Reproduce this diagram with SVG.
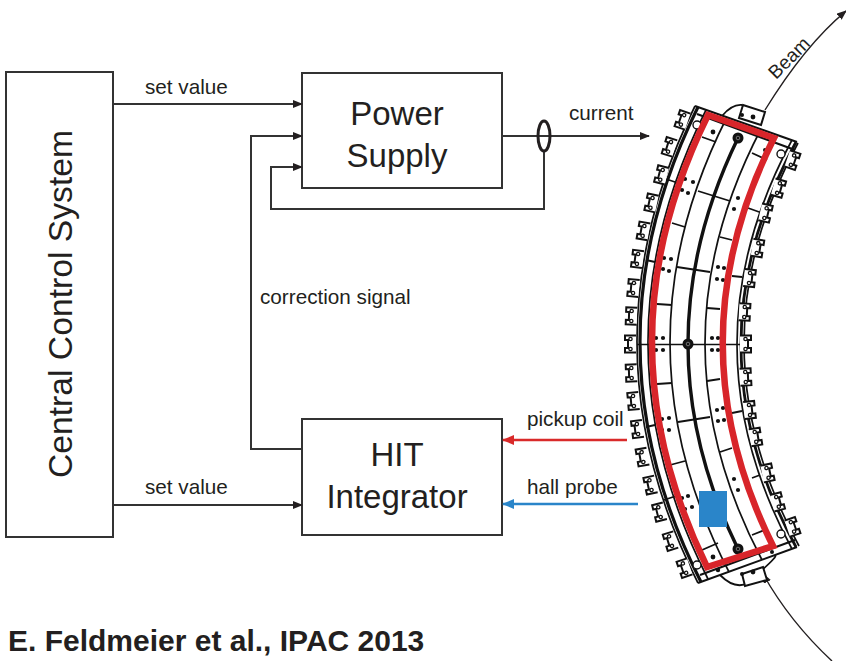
<svg xmlns="http://www.w3.org/2000/svg" width="846" height="661" viewBox="0 0 846 661">
<style>
text{font-family:"Liberation Sans",Arial,sans-serif;fill:#231f20}
.l{font-size:20.7px}
.b{font-size:33px;text-anchor:middle}
.box{fill:#fff;stroke:#333;stroke-width:2}
.w{fill:none;stroke:#333;stroke-width:2}
.r{fill:none;stroke:#111;stroke-width:1.7}
.t{fill:none;stroke:#111;stroke-width:1.8}
.clip{fill:#fff;stroke:#111;stroke-width:2}
.d{fill:#111}
</style>
<defs>
<marker id="a" markerWidth="10" markerHeight="8" refX="9" refY="4" orient="auto" markerUnits="userSpaceOnUse"><path d="M0,0L10,4L0,8Z" fill="#231f20"/></marker>
<marker id="ar" markerWidth="12" markerHeight="10" refX="11" refY="5" orient="auto" markerUnits="userSpaceOnUse"><path d="M0,0L12,5L0,10Z" fill="#d92a2a"/></marker>
<marker id="ab" markerWidth="12" markerHeight="10" refX="11" refY="5" orient="auto" markerUnits="userSpaceOnUse"><path d="M0,0L12,5L0,10Z" fill="#2a85c9"/></marker>
<g id="c"><path class="clip" d="M5,-8.5H-6V-4H-3V4H-6V8.5H5"/><circle cx="-0.5" cy="-5" r="2.3" fill="#111"/><circle cx="-0.5" cy="5" r="2.3" fill="#111"/><circle cx="-0.5" cy="-5" r="1" fill="#fff"/><circle cx="-0.5" cy="5" r="1" fill="#fff"/></g>
<g id="p"><circle r="5.5" fill="#111"/><circle r="1.8" fill="none" stroke="#888" stroke-width="0.8"/></g>
</defs>

<g id="central-control-system"><rect class="box" x="6" y="72" width="107" height="465"/><text transform="translate(72,304) rotate(-90)" font-size="33.7" text-anchor="middle">Central Control System</text></g>
<g id="power-supply"><rect class="box" x="302" y="73" width="200" height="115"/><text class="b" x="397" y="125">Power</text><text class="b" x="397" y="167">Supply</text></g>
<g id="hit-integrator"><rect class="box" x="302" y="419" width="200" height="116"/><text class="b" x="397" y="466">HIT</text><text class="b" x="397" y="508">Integrator</text></g>

<g id="connectors">
<path class="w" marker-end="url(#a)" d="M113,104H302"/>
<path class="w" marker-end="url(#a)" d="M113,505H302"/>
<path class="w" marker-end="url(#a)" d="M302,449H251V136H302"/>
<path class="w" marker-end="url(#a)" d="M544,151V209H271V167H302"/>
<path class="w" marker-end="url(#a)" d="M502,136H649"/>
<ellipse cx="544" cy="136" rx="6" ry="15" fill="none" stroke="#231f20" stroke-width="3"/>
<path fill="none" stroke="#d92a2a" stroke-width="2.5" marker-end="url(#ar)" d="M627,440H503"/>
<path fill="none" stroke="#2a85c9" stroke-width="2.5" marker-end="url(#ab)" d="M638,504H503"/>
<path fill="none" stroke="#231f20" stroke-width="1.4" marker-end="url(#a)" d="M765,110Q805,45 846,11"/>
<path fill="none" stroke="#231f20" stroke-width="1.4" marker-end="url(#a)" d="M832,661Q790,622 763,574"/>
</g>
<g id="labels">
<text class="l" x="145" y="94">set value</text>
<text class="l" x="145" y="494">set value</text>
<text class="l" x="569" y="120">current</text>
<text class="l" x="260" y="304">correction signal</text>
<text class="l" x="527" y="426">pickup coil</text>
<text class="l" x="527" y="494">hall probe</text>
<text transform="translate(776,80) rotate(-45)" font-size="19">Beam</text>
<text x="8" y="651" font-size="30" font-weight="bold" fill="#111">E. Feldmeier et al., IPAC 2013</text>
</g>

<g id="magnet">
<path class="t" d="M722,116Q732,104 742,105M720,575Q735,590 748,583M762,570Q778,556 775,555"/>
<path class="clip" d="M743,105L765,112L761,125L739,118Z"/>
<path class="clip" d="M742,574L763,567L767,580L745,586Z"/>
<circle class="d" cx="742" cy="115" r="2"/><circle class="d" cx="753" cy="117" r="2.4"/>
<circle class="d" cx="742" cy="574" r="2"/><circle class="d" cx="753" cy="572" r="2.4"/>
<path class="r" style="stroke-width:2" d="M695,106L797,142M698,583L797,547M697,114L795,150M700,575L795,540"/>
<path class="r" d="M637,344.5H741"/>
<path class="r" d="M695,106Q577.5,344.5 698,583"/>
<path class="t" style="stroke-width:3.2" d="M698,107Q580.5,344.5 701,582"/>
<path class="r" d="M706,110Q589,344.5 708,579"/>
<path class="r" d="M727,117Q612,344.5 729,572"/>
<path class="r" style="stroke-width:3.4" d="M738,138Q638,344.5 738,549"/>
<path class="r" d="M761,129Q648.5,344.5 762,560"/>
<path class="r" d="M792,140Q682,344.5 792,549"/>
<path class="t" style="stroke-width:2.8" d="M796,142Q686,344.5 796,547"/>
<path class="r" d="M798,143Q689.5,344.5 799,546"/>
<path class="t" d="M646,260L655,262M677,267L710,272M732,276L742,277M646,427L655,425M678,422L710,417M732,413L742,411M657,304L672,305M707,308L720,309M657,384L672,383M707,381L720,379M672,223L685,227M720,237L732,240M663,178L678,183M698,191L730,201M748,208L762,213M752,153L767,160M670,465L685,461M720,452L732,448M752,478L760,475M702,550L718,543M752,535L767,529M664,500L676,496M702,137L716,142"/>
<g class="d">
<circle cx="664" cy="258" r="2.1"/><circle cx="671" cy="259" r="2.1"/><circle cx="663" cy="269" r="2.1"/><circle cx="669" cy="271" r="2.1"/>
<circle cx="718" cy="267" r="2.1"/><circle cx="724" cy="268" r="2.1"/><circle cx="717" cy="279" r="2.1"/><circle cx="723" cy="280" r="2.1"/>
<circle cx="656" cy="338" r="2.1"/><circle cx="663" cy="338" r="2.1"/><circle cx="656" cy="350" r="2.1"/><circle cx="663" cy="350" r="2.1"/>
<circle cx="712" cy="338" r="2.1"/><circle cx="718" cy="338" r="2.1"/><circle cx="712" cy="350" r="2.1"/><circle cx="718" cy="350" r="2.1"/>
<circle cx="662" cy="419" r="2.1"/><circle cx="669" cy="418" r="2.1"/><circle cx="662" cy="430" r="2.1"/><circle cx="669" cy="430" r="2.1"/>
<circle cx="717" cy="410" r="2.1"/><circle cx="723" cy="408" r="2.1"/><circle cx="718" cy="421" r="2.1"/><circle cx="724" cy="420" r="2.1"/>
<circle cx="685" cy="179" r="2.1"/><circle cx="693" cy="182" r="2.1"/><circle cx="682" cy="190" r="2.1"/><circle cx="688" cy="193" r="2.1"/>
<circle cx="738" cy="198" r="2.1"/><circle cx="734" cy="209" r="2.1"/>
<circle cx="682" cy="498" r="2.1"/><circle cx="688" cy="496" r="2.1"/><circle cx="685" cy="509" r="2.1"/><circle cx="692" cy="507" r="2.1"/>
<circle cx="734" cy="479" r="2.1"/><circle cx="738" cy="490" r="2.1"/>
<circle cx="713" cy="132" r="2.4"/><circle cx="765" cy="150" r="2"/><circle cx="713" cy="557" r="2.4"/><circle cx="718" cy="570" r="2.2"/><circle cx="772" cy="552" r="2"/>
</g>
<g fill="#fff" stroke="#111" stroke-width="1.4"><circle cx="697" cy="125" r="4"/><circle cx="781" cy="154" r="4"/><circle cx="697" cy="565" r="4"/><circle cx="781" cy="534" r="4"/></g>
<use href="#p" x="738" y="138"/><use href="#p" x="688" y="344"/><use href="#p" x="738" y="549"/>
<use href="#c" transform="translate(683,120) rotate(19)"/><use href="#c" transform="translate(670,147) rotate(17)"/><use href="#c" transform="translate(662,175) rotate(14)"/><use href="#c" transform="translate(652,203) rotate(12)"/><use href="#c" transform="translate(644,231) rotate(10)"/><use href="#c" transform="translate(638,259) rotate(7)"/><use href="#c" transform="translate(634,288) rotate(5)"/><use href="#c" transform="translate(632,316) rotate(2)"/><use href="#c" transform="translate(631,344)"/><use href="#c" transform="translate(632,373) rotate(-2)"/><use href="#c" transform="translate(634,401) rotate(-5)"/><use href="#c" transform="translate(638,429) rotate(-7)"/><use href="#c" transform="translate(643,457) rotate(-10)"/><use href="#c" transform="translate(651,485) rotate(-12)"/><use href="#c" transform="translate(660,512) rotate(-14)"/><use href="#c" transform="translate(671,541) rotate(-17)"/><use href="#c" transform="translate(685,568) rotate(-19)"/>
<use href="#c" transform="translate(792,160) rotate(19) scale(-1,1)"/><use href="#c" transform="translate(778,188) rotate(16) scale(-1,1)"/><use href="#c" transform="translate(765,213) rotate(13) scale(-1,1)"/><use href="#c" transform="translate(757,248) rotate(9) scale(-1,1)"/><use href="#c" transform="translate(749,278) rotate(6) scale(-1,1)"/><use href="#c" transform="translate(744,312) rotate(3) scale(-1,1)"/><use href="#c" transform="translate(745,344) scale(-1,1)"/><use href="#c" transform="translate(745,377) rotate(-3) scale(-1,1)"/><use href="#c" transform="translate(749,410) rotate(-6) scale(-1,1)"/><use href="#c" transform="translate(755,437) rotate(-9) scale(-1,1)"/><use href="#c" transform="translate(767,473) rotate(-12) scale(-1,1)"/><use href="#c" transform="translate(777,502) rotate(-15) scale(-1,1)"/><use href="#c" transform="translate(792,527) rotate(-19) scale(-1,1)"/>
<path fill="none" stroke="#d8252a" stroke-width="6.5" stroke-linejoin="miter" d="M708,115L774,138Q672,342 773,546L707,567Q596.5,341 708,115Z"/>
<rect x="699" y="491" width="28" height="36" fill="#2a85c9"/>
</g>
</svg>
